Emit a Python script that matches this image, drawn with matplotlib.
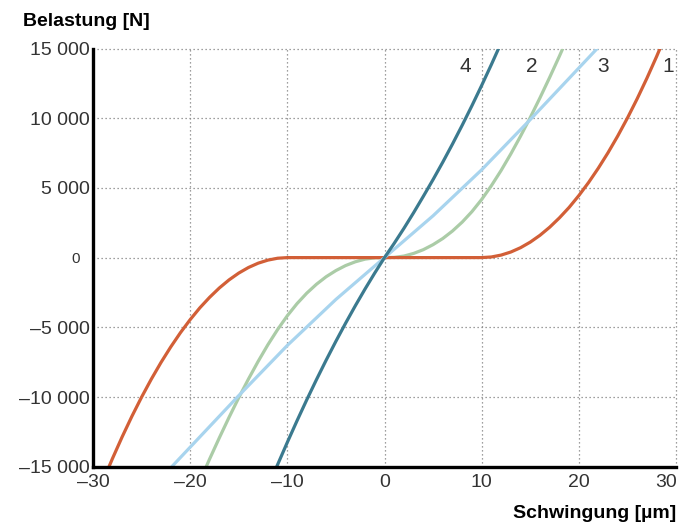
import matplotlib
matplotlib.use("Agg")
import matplotlib.pyplot as plt
from matplotlib.transforms import ScaledTranslation

plt.rcParams['font.family'] = ['Liberation Sans', 'DejaVu Sans']

# Kurve 1 (Spiel +-10 um, danach progressiv)
x1 = [-30, -29, -28, -27, -26, -25, -24, -23, -22, -21, -20, -19, -18, -17, -16, -15, -14, -13, -12, -11, -10,
      10, 11, 12, 13, 14, 15, 16, 17, 18, 19, 20, 21, 22, 23, 24, 25, 26, 27, 28, 29, 30]
y1 = [-17800, -16060, -14420, -12860, -11390, -10010, -8720, -7520, -6410, -5385, -4450, -3600, -2850,
      -2180, -1600, -1110, -710, -400, -180, -45, 0,
      0, 45, 180, 400, 710, 1110, 1600, 2180, 2850, 3600, 4450, 5385, 6410, 7520, 8720, 10010,
      11390, 12860, 14420, 16060, 17800]

# Kurve 2
x2 = [-20, -19, -18, -17, -16, -15, -14, -13, -12, -11, -10, -9, -8, -7, -6, -5, -4, -3, -2, -1,
      0, 1, 2, 3, 4, 5, 6, 7, 8, 9, 10, 11, 12, 13, 14, 15, 16, 17, 18, 19, 20]
y2 = [-17660, -16030, -14450, -12930, -11460, -10050, -8710, -7440, -6250, -5160, -4170, -3300, -2550,
      -1910, -1370, -930, -570, -300, -110, -16,
      0, 16, 110, 300, 570, 930, 1370, 1910, 2550, 3300, 4170, 5160, 6250, 7440, 8710, 10050,
      11460, 12930, 14450, 16030, 17660]

# Kurve 3 (fast linear)
x3 = [-30, -25, -20, -15, -10, -5, 0, 5, 10, 15, 20, 25, 30]
y3 = [-21000, -17300, -13600, -9900, -6300, -3000, 0, 3000, 6300, 9900, 13600, 17300, 21000]

# Kurve 4 (steif)
x4 = [-12, -11, -10, -9, -8, -7, -6, -5, -4, -3, -2, -1, 0, 1, 2, 3, 4, 5, 6, 7, 8, 9, 10, 11, 12]
y4 = [-16450, -14850, -13250, -11700, -10200, -8750, -7350, -6000, -4700, -3450, -2250, -1100,
      0, 1025, 2100, 3225, 4400, 5600, 6850, 8150, 9500, 10900, 12350, 13850, 15400]

kurven_namen = ['4', '2', '3', '1']
kurven_x = [8.35, 15.2, 22.5, 29.2]
kurven_y = [13700, 13700, 13700, 13700]

xticks = [-30, -20, -10, 0, 10, 20, 30]
xlabels = ['–30', '–20', '–10', '0', '10', '20', '30']
yticks = [-15000, -10000, -5000, 0, 5000, 10000, 15000]
ylabels = ['–15 000', '–10 000', '–5 000', '0', '5 000', '10 000', '15 000']

fig = plt.figure(figsize=(6.92, 5.26), dpi=100)
ax = fig.add_axes([93/692, 59.3/526, 583/692, 418.2/526])

lw = 2.3
ax.plot(x2, y2, color='#abcca7', lw=lw, solid_capstyle='butt')
ax.plot(x1, y1, color='#d25f37', lw=lw, solid_capstyle='butt')
ax.plot(x3, y3, color='#a8d4ee', lw=lw, solid_capstyle='butt')
ax.plot(x4, y4, color='#3b7a8f', lw=lw, solid_capstyle='butt')

for t, xx, yy in zip(kurven_namen, kurven_x, kurven_y):
    ax.text(xx, yy, t, fontsize=15, color='#333333', ha='center', va='center')

ax.set_xlim(-30, 30)
ax.set_ylim(-15000, 15000)
ax.set_xticks(xticks)
ax.set_xticklabels(xlabels)
ax.set_yticks(yticks)
ax.set_yticklabels(ylabels)
ax.tick_params(axis='both', length=0, labelsize=14, colors='#333333')
ax.tick_params(axis='y', pad=2)
ax.tick_params(axis='x', pad=5)

ax.grid(True, color='#808080', lw=0.9, linestyle=(0, (1, 2.2)))
for gl in ax.get_xgridlines() + ax.get_ygridlines():
    gl.set_clip_on(False)
ax.set_axisbelow(True)

for s in ['top', 'right']:
    ax.spines[s].set_visible(False)
for s in ['left', 'bottom']:
    ax.spines[s].set_linewidth(2.4)
    ax.spines[s].set_color('black')
    ax.spines[s].set_zorder(5)

# "0" an der y-Achse kleiner und etwas weiter links
lbl0 = ax.get_yticklabels()[3]
lbl0.set_fontsize(11)
lbl0.set_transform(lbl0.get_transform() + ScaledTranslation(-0.10, 0, fig.dpi_scale_trans))
# "30" bündig mit dem Achsenende
ax.get_xticklabels()[-1].set_ha('right')
ax.get_xticklabels()[-1].set_transform(ax.get_xticklabels()[-1].get_transform()
                                       + ScaledTranslation(0.01, 0, fig.dpi_scale_trans))

fig.text(23/692, 1 - 22/526, 'Belastung [N]', fontsize=14, fontweight='bold', ha='left', va='center')
fig.text(676/692, 1 - 513/526, 'Schwingung [µm]', fontsize=14, fontweight='bold', ha='right', va='center')

fig.savefig('out.png', dpi=100)
